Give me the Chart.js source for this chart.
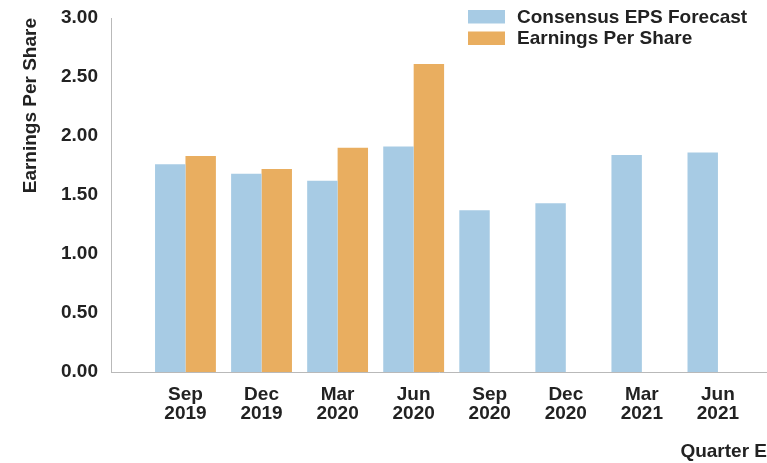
<!DOCTYPE html>
<html>
<head>
<meta charset="utf-8">
<script src="https://cdn.jsdelivr.net/npm/chart.js@4/dist/chart.umd.min.js"></script>
<style>
html,body{margin:0;padding:0;background:#ffffff;}
#wrap{width:767px;height:463px;position:relative;}
</style>
</head>
<body>
<div id="wrap"><canvas id="c" width="767" height="463"></canvas></div>
<script>
// ---- data ----
const quarters = ['Sep 2019','Dec 2019','Mar 2020','Jun 2020','Sep 2020','Dec 2020','Mar 2021','Jun 2021'];
const consensusEPS = [1.76, 1.68, 1.62, 1.91, 1.37, 1.43, 1.84, 1.86];
const actualEPS    = [1.83, 1.72, 1.90, 2.61, null, null, null, null];
const yTickValues  = [0, 0.5, 1, 1.5, 2, 2.5, 3];
const seriesNames  = ['Consensus EPS Forecast', 'Earnings Per Share'];
const yAxisTitle   = 'Earnings Per Share';
const xAxisTitle   = 'Quarter E';

// ---- styles ----
const FONT = '"Liberation Sans", Arial, Helvetica, sans-serif';
const TEXT = '#222222';
const BLUE = '#a7cbe4';
const ORANGE = '#e9ae60';
const AXIS = '#b9b9b9';

Chart.defaults.font.family = FONT;
Chart.defaults.font.size = 19;
Chart.defaults.font.weight = 'bold';
Chart.defaults.color = TEXT;

const cornerLegend = {
  id: 'cornerLegend',
  afterDraw(chart) {
    const ctx = chart.ctx;
    ctx.save();
    ctx.font = 'bold 19px ' + FONT;
    ctx.textBaseline = 'middle';
    ctx.textAlign = 'left';
    chart.data.datasets.forEach((ds, i) => {
      const y = 10 + i * 21.5;
      ctx.fillStyle = ds.backgroundColor;
      ctx.fillRect(468, y, 37, 13.5);
      ctx.fillStyle = TEXT;
      ctx.fillText(ds.label, 517, y + 7.5);
    });
    ctx.restore();
  }
};

const toPoints = arr => arr.map((v, i) => ({ x: i, y: v }));

new Chart(document.getElementById('c'), {
  type: 'bar',
  data: {
    datasets: [
      { label: seriesNames[0], data: toPoints(consensusEPS), backgroundColor: BLUE, borderWidth: 0 },
      { label: seriesNames[1], data: toPoints(actualEPS), backgroundColor: ORANGE, borderWidth: 0 }
    ]
  },
  plugins: [cornerLegend],
  options: {
    responsive: false,
    animation: false,
    devicePixelRatio: 1,
    barPercentage: 1.0,
    categoryPercentage: 0.8,
    layout: { padding: { top: 18, right: 0, left: 0, bottom: 0 } },
    plugins: {
      legend: { display: false },
      tooltip: { enabled: false }
    },
    scales: {
      x: {
        type: 'linear',
        offset: false,
        min: -0.979,
        max: 7.645,
        grid: { display: false, offset: false },
        border: { display: true, color: AXIS, width: 1 },
        afterBuildTicks: scale => { scale.ticks = quarters.map((q, i) => ({ value: i })); },
        afterFit: scale => { scale.height = 91; },
        ticks: {
          autoSkip: false,
          maxRotation: 0,
          minRotation: 0,
          padding: 5,
          color: TEXT,
          font: { size: 19, weight: 'bold', lineHeight: 1.0 },
          callback: (v, i) => quarters[i].split(' ')
        },
        title: {
          display: true,
          text: xAxisTitle,
          align: 'end',
          color: TEXT,
          font: { size: 19, weight: 'bold' },
          padding: { top: 0, bottom: 0 }
        }
      },
      y: {
        min: 0,
        max: 3,
        grid: { display: false },
        border: { display: true, color: AXIS, width: 1 },
        afterBuildTicks: scale => { scale.ticks = yTickValues.map(v => ({ value: v })); },
        afterFit: scale => { scale.width = 111; },
        ticks: {
          padding: 5,
          color: TEXT,
          font: { size: 19, weight: 'bold' },
          callback: v => Number(v).toFixed(2)
        },
        title: {
          display: true,
          text: yAxisTitle,
          align: 'end',
          color: TEXT,
          font: { size: 19, weight: 'bold' },
          padding: { top: 19, bottom: 0 }
        }
      }
    }
  }
});
</script>
</body>
</html>
